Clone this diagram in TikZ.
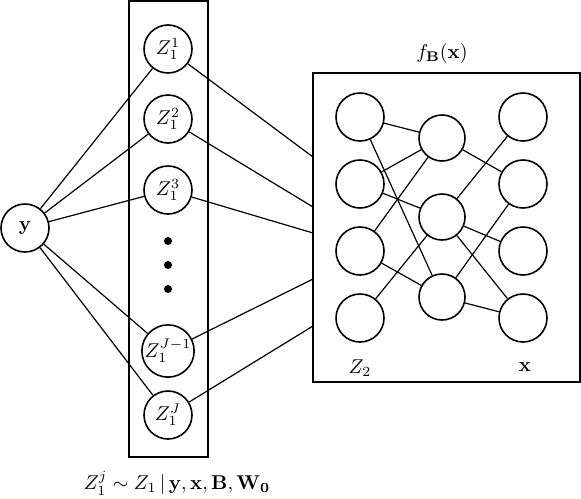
\documentclass[tikz,border=0pt]{standalone}
\usepackage{amsmath,amssymb}

\tikzset{
	unit/.style={draw,circle,minimum size=24pt,inner sep=0pt,thick},
	hidden/.style={draw,circle,minimum size=23pt,inner sep=0pt,thick},
	dot/.style={circle,fill,inner sep=0pt,minimum size=4pt},
	frame/.style={draw,thick}
}

\begin{document}
\begin{tikzpicture}[x=0.5pt,y=-0.5pt,line width=0.6pt]
	\useasboundingbox (0,0) rectangle (581,498);

	% boxes
	\draw[frame] (129,1) rectangle (208,457);
	\draw[frame] (313,73) rectangle (580,382);

	% input node
	\node[unit] (y) at (25,228) {$\mathbf{y}$};

	% sampled nodes
	\node[unit] (z1) at (168,49) {$Z_1^1$};
	\node[unit] (z2) at (168,119) {$Z_1^2$};
	\node[unit] (z3) at (168,190) {$Z_1^3$};
	\node[unit] (zJm) at (168,351) {$Z_1^{J-1}$};
	\node[unit] (zJ) at (168,415) {$Z_1^J$};

	\node[dot] (d1) at (168,241) {};
	\node[dot] (d2) at (168,265) {};
	\node[dot] (d3) at (168,289) {};

	% network nodes
	\foreach \i/\yy in {1/117,2/184,3/251,4/318}{
		\node[unit] (l\i) at (360,\yy) {};
		\node[unit] (r\i) at (523,\yy) {};
	}
	\foreach \i/\yy in {1/138,2/217,3/297}{
		\node[hidden] (m\i) at (442,\yy) {};
	}

	% entry points on the network box
	\coordinate (e1) at (313,157);
	\coordinate (e2) at (313,207);
	\coordinate (e3) at (313,233);
	\coordinate (e4) at (313,279);
	\coordinate (e5) at (313,326);

	% draw lines
	\foreach \z in {z1,z2,z3,zJm,zJ}
		\draw (y) -- (\z);
	\draw (z1) -- (e1);
	\draw (z2) -- (e2);
	\draw (z3) -- (e3);
	\draw (zJm) -- (e4);
	\draw (zJ) -- (e5);

	\draw (l1) -- (m1);
	\draw (l1) -- (m3);
	\draw (l2) -- (m1);
	\draw (l2) -- (m2);
	\draw (l3) -- (m1);
	\draw (l3) -- (m3);
	\draw (l4) -- (m2);
	\draw (m1) -- (r2);
	\draw (m2) -- (r1);
	\draw (m2) -- (r3);
	\draw (m2) -- (r4);
	\draw (m3) -- (r2);
	\draw (m3) -- (r4);

	% labels
	\node (fB) at (442,53) {$f_{\mathbf{B}}(\mathbf{x})$};
	\node (z2lab) at (360,368) {$Z_2$};
	\node (xlab) at (525,367) {$\mathbf{x}$};
	\node (post) at (177,483) {$Z_1^j \sim Z_1 \,|\, \mathbf{y}, \mathbf{x}, \mathbf{B}, \mathbf{W}_{\mathbf{0}}$};

\end{tikzpicture}
\end{document}
